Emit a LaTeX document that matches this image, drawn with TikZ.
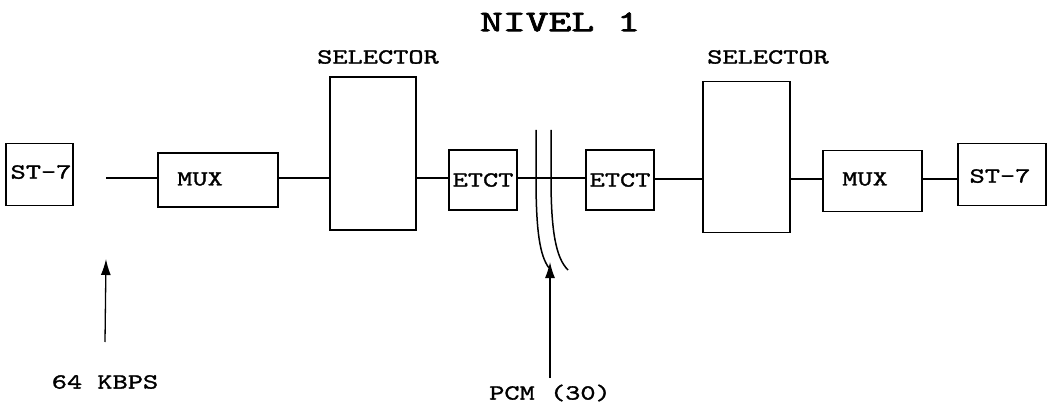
\documentclass[tikz,border=0pt]{standalone}
\usepackage{fontspec}
\usetikzlibrary{arrows.meta}
\newfontfamily\lblface{lmmono10-regular.otf}[FakeStretch=1.34,FakeBold=1.4]
\newfontfamily\ttlface{lmmono10-regular.otf}[FakeStretch=1.45,FakeBold=2.5]
\begin{document}
\begin{tikzpicture}[x=1pt,y=-1pt,
  blk/.style={draw, line width=1.6pt, inner sep=0pt},
  lbl/.style={inner sep=0pt, font=\lblface\fontsize{21.6}{25}\selectfont},
  wire/.style={line width=1.3pt},
  arr/.style={line width=1.3pt, -{Latex[length=16pt,width=10pt]}}]
\useasboundingbox (0,0) rectangle (1052,406);
\node[inner sep=0pt, font=\ttlface\fontsize{30}{34}\selectfont] (title) at (560,22) {NIVEL 1};
% left side
\node[blk, minimum width=67pt, minimum height=62pt] (st1) at (39.5,174.5) {};
\node[lbl] at (41,172) {ST-7};
\node[blk, minimum width=120pt, minimum height=54pt] (mux1) at (218,180) {};
\node[lbl] at (200,179) {MUX};
\node[blk, minimum width=86pt, minimum height=153pt] (sel1) at (373,153.5) {};
\node[lbl] (sl1) at (378,57) {SELECTOR};
\node[blk, minimum width=68pt, minimum height=60pt] (et1) at (483,180) {};
\node[lbl] at (et1) {ETCT};
% right side
\node[blk, minimum width=68pt, minimum height=60pt] (et2) at (620,180) {};
\node[lbl] at (et2) {ETCT};
\node[blk, minimum width=87pt, minimum height=151pt] (sel2) at (746.5,157) {};
\node[lbl] (sl2) at (768,57) {SELECTOR};
\node[blk, minimum width=99pt, minimum height=61pt] (mux2) at (872.5,181) {};
\node[lbl] at (865,179) {MUX};
\node[blk, minimum width=88pt, minimum height=62pt] (st2) at (1002,174.5) {};
\node[lbl] at (1000,176) {ST-7};
% main line
\coordinate (c64) at (106,178);
\draw[wire] (c64) -- (mux1.west |- c64);
\draw[wire] (mux1.east |- c64) -- (sel1.west |- c64);
\draw[wire] (sel1.east |- c64) -- (et1.west |- c64);
\draw[wire] (et1.east |- c64) -- (et2.west |- c64);
\coordinate (r) at (0,179);
\draw[wire] (et2.east |- r) -- (sel2.west |- r);
\draw[wire] (sel2.east |- r) -- (mux2.west |- r);
\draw[wire] (mux2.east |- r) -- (st2.west |- r);
% 64 kbps arrow
\node[lbl] (k64) at (105,382) {64 KBPS};
\coordinate (a64) at (106,259);
\draw[arr] (k64.north |- 0,342) -- (a64);
% PCM curves
\coordinate (p1) at (536,130);
\coordinate (p2) at (551,130);
\draw[line width=1.5pt] (p1) -- (536,178) .. controls (536,232) and (540,256) .. (549,268);
\draw[line width=1.5pt] (p2) -- (551,178) .. controls (551,232) and (556,258) .. (568,270);
\node[lbl] (pcm) at (550,393) {PCM (30)};
\coordinate (apcm) at (550,262);
\draw[arr] (pcm.north |- 0,378) -- (apcm);
\end{tikzpicture}
\end{document}
